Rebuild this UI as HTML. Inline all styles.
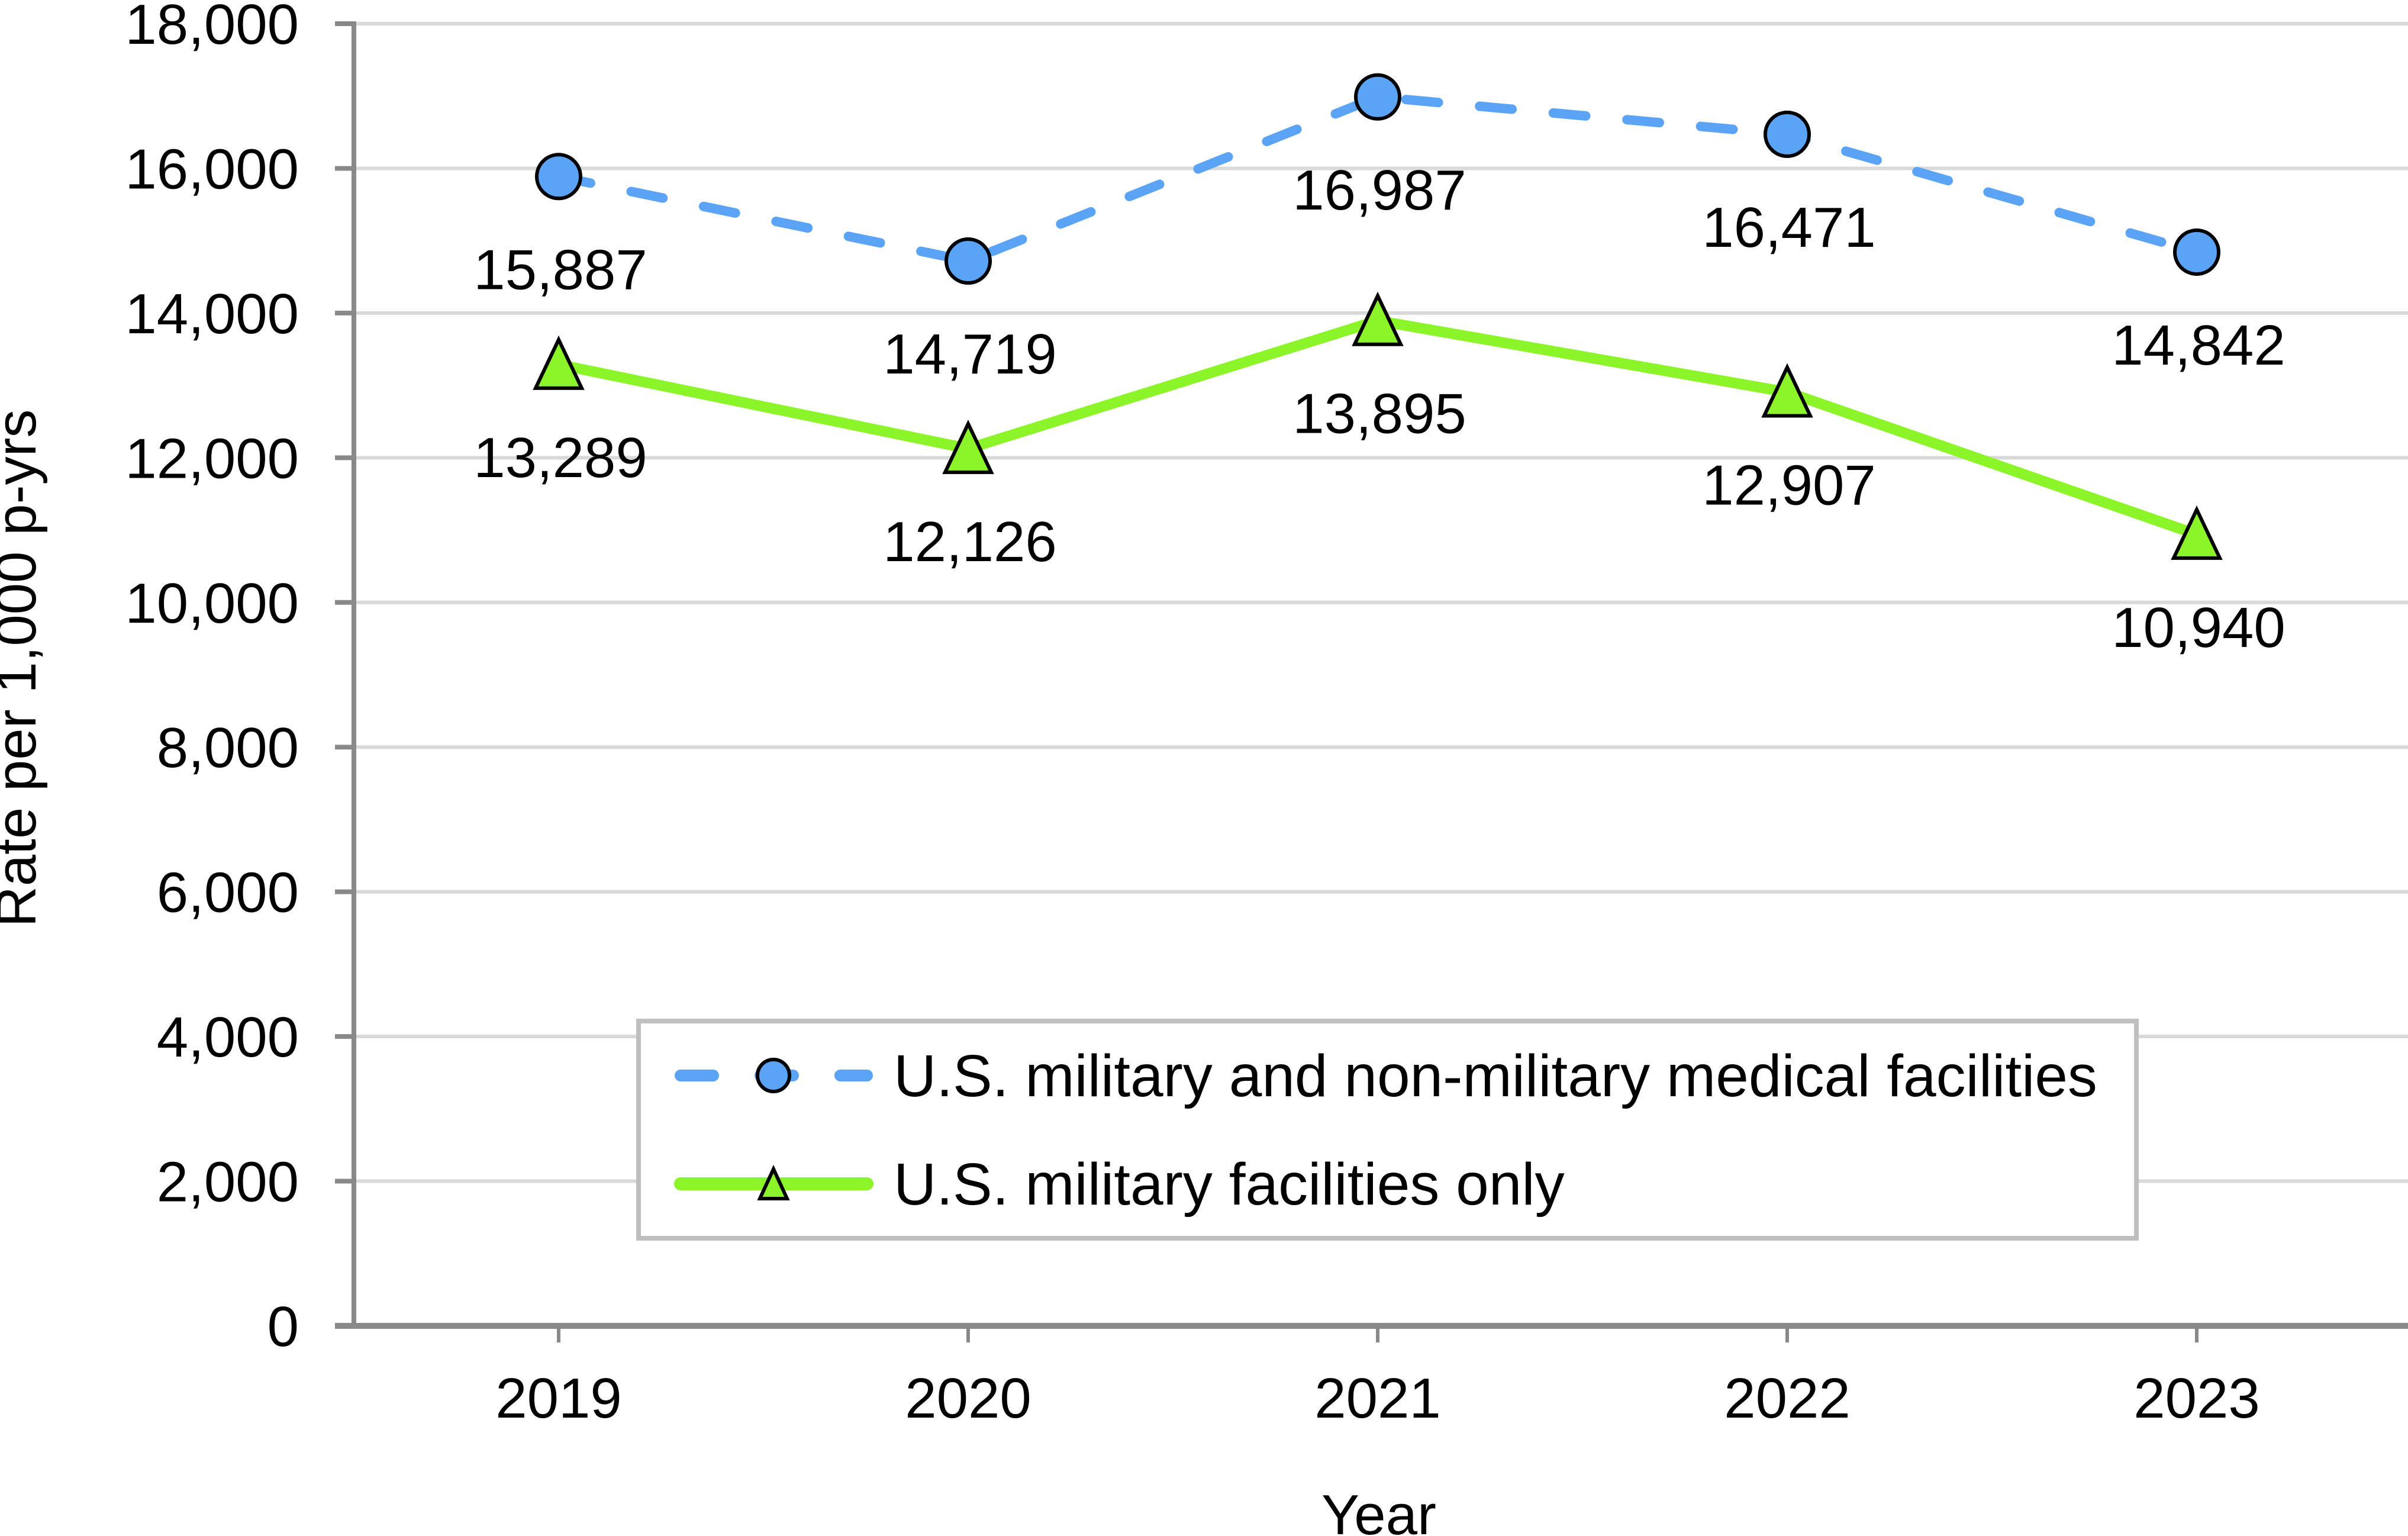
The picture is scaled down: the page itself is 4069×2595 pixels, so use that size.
<!DOCTYPE html>
<html><head><meta charset="utf-8"><style>
html,body{margin:0;padding:0;background:#fff;}
svg{display:block;font-family:"Liberation Sans",Arial,sans-serif;}
</style></head><body>
<svg id="chart" width="4069" height="2595" viewBox="0 0 4069 2595">
<g id="grid"></g>
<g id="axes"></g>
<g id="series"></g>
<g id="labels"></g>
<text x="898" y="0" transform="translate(60,1129) rotate(-90)" text-anchor="middle" font-size="96" dx="-898">Rate per 1,000 p-yrs</text>
<text x="2330" y="2592" text-anchor="middle" font-size="96">Year</text>
<g>
<rect x="1079" y="1725" width="2531" height="367" fill="#fff" stroke="#bfbfbf" stroke-width="8"/>
<g>
<line x1="1150" y1="1817" x2="1465" y2="1817" stroke="#5ba3f5" stroke-width="20" stroke-linecap="round" stroke-dasharray="55 80"/>
<circle cx="1307" cy="1817" r="27" fill="#5ba3f5" stroke="#000" stroke-width="6"/>
<text x="1510" y="1852" font-size="100">U.S. military and non-military medical facilities</text>
</g>
<g>
<line x1="1150" y1="2000" x2="1465" y2="2000" stroke="#8cf52a" stroke-width="22" stroke-linecap="round"/>
<polygon points="1307,1975 1330,2025 1284,2025" fill="#8cf52a" stroke="#000" stroke-width="6"/>
<text x="1510" y="2035" font-size="100">U.S. military facilities only</text>
</g>
</g>
</svg>
<script>
const categories = ["2019","2020","2021","2022","2023"];
const allFacilities = [15887,14719,16987,16471,14842];
const militaryOnly = [13289,12126,13895,12907,10940];
const yTicks = [0,2000,4000,6000,8000,10000,12000,14000,16000,18000];
const yTickLabels = ["0","2,000","4,000","6,000","8,000","10,000","12,000","14,000","16,000","18,000"];

const NS = "http://www.w3.org/2000/svg";
const X0 = 598, CW = 692, Y0 = 2240, YMAX = 18000, YTOP = 40;
function xScale(i){ return X0 + CW*(i+0.5); }
function yScale(v){ return Y0 - (v/YMAX)*(Y0-YTOP); }
function mk(tag, attrs, parent){ const e=document.createElementNS(NS,tag); for(const k in attrs) e.setAttribute(k,attrs[k]); parent.appendChild(e); return e; }
const grid=document.getElementById('grid'), axes=document.getElementById('axes'), series=document.getElementById('series'), labels=document.getElementById('labels');
const fmt = v => v.toLocaleString('en-US');

yTicks.forEach((t,i)=>{
  const y=yScale(t);
  if(t>0){
    const g=mk('line',{x1:X0,x2:4069,y1:y,y2:y,stroke:'#d9d9d9','stroke-width':6},grid);
    
    
  }
  const tk=mk('line',{x1:566,x2:X0,y1:y,y2:y,stroke:'#898989','stroke-width':8},axes);
  
  
  const tx=mk('text',{x:505,y:y+34,'text-anchor':'end','font-size':96},axes);
  tx.textContent=yTickLabels[i];
  
  
});
const ya=mk('line',{x1:X0,x2:X0,y1:YTOP-4,y2:Y0,stroke:'#898989','stroke-width':8},axes);


const xa=mk('line',{x1:566,x2:4069,y1:Y0,y2:Y0,stroke:'#898989','stroke-width':10},axes);


categories.forEach((c,i)=>{
  const x=xScale(i);
  const tk=mk('line',{x1:x,x2:x,y1:Y0,y2:Y0+28,stroke:'#898989','stroke-width':6},axes);
  
  
  const tx=mk('text',{x:x,y:2395,'text-anchor':'middle','font-size':96},axes);
  tx.textContent=c;
  
  
});

function pts(arr){ return arr.map((v,i)=>xScale(i)+','+yScale(v)).join(' '); }
const lb=mk('polyline',{points:pts(allFacilities),fill:'none',stroke:'#5ba3f5','stroke-width':16,'stroke-linecap':'round','stroke-dasharray':'55 70'},series);


const lg=mk('polyline',{points:pts(militaryOnly),fill:'none',stroke:'#8cf52a','stroke-width':18,'stroke-linejoin':'round'},series);



allFacilities.forEach((v,i)=>{
  const x=xScale(i), y=yScale(v);
  const c=mk('circle',{cx:x,cy:y,r:37,fill:'#5ba3f5',stroke:'#000','stroke-width':6},series);
  
  
  const t=mk('text',{x:x+3,y:y+190,'text-anchor':'middle','font-size':96},labels);
  t.textContent=fmt(v);
  
  
});
militaryOnly.forEach((v,i)=>{
  const x=xScale(i), y=yScale(v);
  const p=mk('polygon',{points:`${x},${y-42} ${x+39},${y+40} ${x-39},${y+40}`,fill:'#8cf52a',stroke:'#000','stroke-width':6,'stroke-linejoin':'miter'},series);
  
  
  const t=mk('text',{x:x+3,y:y+190,'text-anchor':'middle','font-size':96},labels);
  t.textContent=fmt(v);
  
  
});
</script>
</body></html>
